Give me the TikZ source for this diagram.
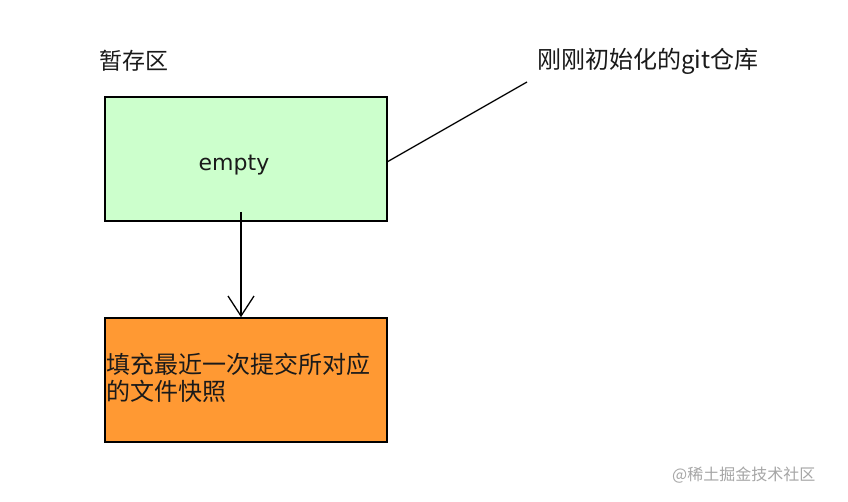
\documentclass[tikz,border=0pt]{standalone}
\usepackage{fontspec}
\setmainfont{Noto Sans CJK SC}
\newfontfamily\latinsans{DejaVu Sans}
\usetikzlibrary{arrows.meta}
\definecolor{boxgreen}{HTML}{CCFFCC}
\definecolor{boxorange}{HTML}{FF9933}
\definecolor{txt}{HTML}{1A1A1A}
\tikzset{
  box/.style={draw=black, line width=1.6pt, minimum width=282pt, minimum height=124pt, inner sep=0pt},
  lbl/.style={text=txt, font=\fontsize{23}{26}\selectfont, inner sep=0pt},
  conn/.style={draw=black, line width=1.3pt}
}
\begin{document}
\begin{tikzpicture}[x=1pt,y=-1pt]
\useasboundingbox (0,0) rectangle (848,502);
\fill[white] (0,0) rectangle (848,502);
\node[box, fill=boxgreen] (stage) at (246,159) {};
\node[box, fill=boxorange] (snap) at (246,380) {};
\node[lbl, font=\latinsans\fontsize{22}{26}\selectfont] (empty) at (234,165) {empty};
\node[lbl] (title) at (134,61) {暂存区};
\node[lbl, anchor=west, font=\fontsize{24}{26}\selectfont] (repo) at (537,61) {刚刚初始化的git仓库};
\node[lbl, anchor=north west, align=left, font=\fontsize{24}{26.5}\selectfont] (snaptext) at (106,353) {填充最近一次提交所对应\\的文件快照};
\node[text=gray!70, font=\fontsize{16}{18}\selectfont, anchor=west, inner sep=0pt] (wm) at (672,475) {@稀土掘金技术社区};
\coordinate (repoend) at (527,82);
\coordinate (stageout) at (387,162);
\coordinate (arrowstart) at (241,212);
\draw[conn] (stageout) -- (repoend);
\draw[conn, -{Straight Barb[length=20pt,width=26pt,line width=1.3pt]}] (arrowstart) -- (arrowstart |- snap.north);
\end{tikzpicture}
\end{document}
